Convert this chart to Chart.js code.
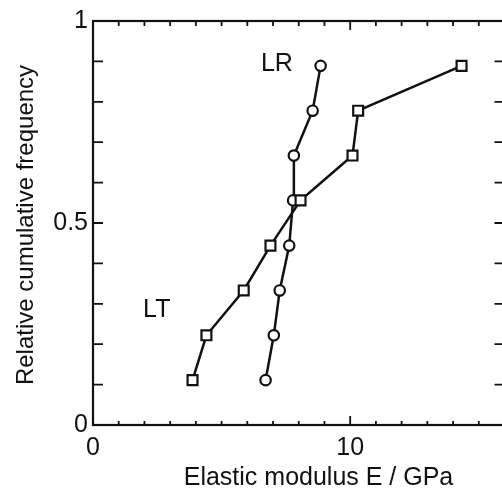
<!DOCTYPE html>
<html><head><meta charset="utf-8">
<script src="https://cdn.jsdelivr.net/npm/chart.js@4.4.1/dist/chart.umd.min.js"></script>
<style>
html,body{margin:0;padding:0;overflow:hidden;background:#fff;width:502px;height:489px}
#wrap{position:absolute;left:0;top:0;width:520px;height:489px}
</style></head><body>
<div id="wrap"><canvas id="c" width="520" height="489"></canvas></div>
<script>
// ---- data ----
const cumFrequency = [0.111, 0.222, 0.333, 0.444, 0.556, 0.667, 0.778, 0.889];
const ltModulus = [3.87, 4.41, 5.86, 6.90, 8.07, 10.09, 10.31, 14.33];
const lrModulus = [6.71, 7.03, 7.26, 7.63, 7.78, 7.81, 8.54, 8.85];
const xTickLabels = [0, 10];
const yTickLabels = [0, 0.5, 1];
const seriesNames = ['LR', 'LT'];
const seriesNamePos = [[7.15, 0.893], [2.48, 0.285]];
const xTitle = 'Elastic modulus E / GPa';
const yTitle = 'Relative cumulative frequency';

const FONT = "'Liberation Sans', Arial, Helvetica, sans-serif";
const toPts = (xs) => xs.map((x, i) => ({x: x, y: cumFrequency[i]}));

const framePlugin = {
  id: 'frame',
  beforeDatasetsDraw(chart) {
    const {ctx, chartArea: a, scales: {x, y}} = chart;
    ctx.save();
    ctx.strokeStyle = '#111';
    ctx.lineWidth = 2.2;
    ctx.strokeRect(a.left, a.top, a.right - a.left, a.bottom - a.top);
    ctx.lineWidth = 1.8;
    ctx.beginPath();
    for (let v = 1; v < 16; v++) {
      const px = x.getPixelForValue(v);
      const major = v === 10;
      ctx.moveTo(px, a.top); ctx.lineTo(px, a.top + (major ? 9 : 5));
      ctx.moveTo(px, a.bottom); ctx.lineTo(px, a.bottom - (major ? 9 : 4));
    }
    for (let k = 1; k < 10; k++) {
      const py = y.getPixelForValue(k / 10);
      ctx.moveTo(a.left, py); ctx.lineTo(a.left + 10, py);
      ctx.moveTo(a.right, py); ctx.lineTo(a.right - 10, py);
    }
    ctx.stroke();
    ctx.restore();
  },
  afterDraw(chart) {
    const {ctx, scales: {x, y}} = chart;
    ctx.save();
    ctx.fillStyle = '#111';
    ctx.textAlign = 'center';
    ctx.textBaseline = 'middle';
    ctx.font = '25px ' + FONT;
    seriesNames.forEach((t, i) => {
      ctx.fillText(t, x.getPixelForValue(seriesNamePos[i][0]), y.getPixelForValue(seriesNamePos[i][1]));
    });
    ctx.fillText(xTitle, 318.5, 478);
    ctx.font = '24px ' + FONT;
    ctx.translate(26, 225);
    ctx.rotate(-Math.PI / 2);
    ctx.fillText(yTitle, 0, 0);
    ctx.restore();
  }
};

const common = {
  showLine: true,
  borderColor: '#111',
  borderWidth: 2.5,
  pointBorderColor: '#111',
  pointBackgroundColor: '#fff',
  pointBorderWidth: 2.2,
  tension: 0
};

new Chart(document.getElementById('c'), {
  type: 'scatter',
  data: {
    datasets: [
      Object.assign({label: 'LT', data: toPts(ltModulus), pointStyle: 'rect', pointRadius: 7}, common),
      Object.assign({label: 'LR', data: toPts(lrModulus), pointStyle: 'circle', pointRadius: 5.2}, common)
    ]
  },
  options: {
    responsive: false,
    animation: false,
    devicePixelRatio: 1,
    layout: {padding: {top: 21, right: 15.5, left: 0, bottom: 0}},
    plugins: {legend: {display: false}, tooltip: {enabled: false}},
    scales: {
      x: {
        type: 'linear', min: 0, max: 16,
        grid: {display: false, drawTicks: false},
        border: {display: false},
        ticks: {
          stepSize: 1, autoSkip: false, maxRotation: 0, padding: 8,
          color: '#111', font: {family: FONT, size: 25},
          callback: (v) => xTickLabels.includes(Math.round(v)) && Math.abs(v - Math.round(v)) < 1e-9 ? String(Math.round(v)) : ''
        },
        afterFit: (s) => { s.height = 64; }
      },
      y: {
        type: 'linear', min: 0, max: 1,
        grid: {display: false, drawTicks: false},
        border: {display: false},
        ticks: {
          stepSize: 0.1, autoSkip: false, padding: 5,
          color: '#111', font: {family: FONT, size: 25},
          callback: (v) => {
            const r = Math.round(v * 10) / 10;
            return yTickLabels.includes(r) ? String(r) : '';
          }
        },
        afterFit: (s) => { s.width = 93; }
      }
    }
  },
  plugins: [framePlugin]
});
</script>
</body></html>
